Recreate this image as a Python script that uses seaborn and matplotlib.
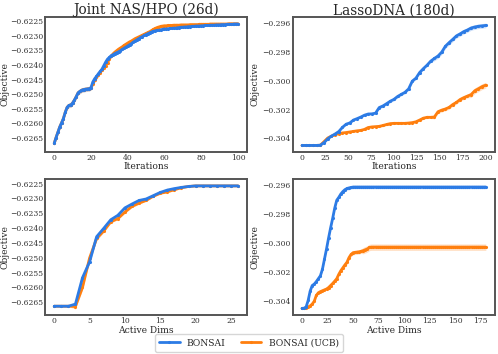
import numpy as np
import pandas as pd
import matplotlib
matplotlib.use("Agg")
import matplotlib.pyplot as plt
import seaborn as sns

# ---------------- data ----------------
nas_iters = list(range(0, 101))
nas_bonsai = [
    -0.62668, -0.62648, -0.62630, -0.62612, -0.62598, -0.62583, -0.62562, -0.62545, -0.62538, -0.62537,
    -0.62530, -0.62520, -0.62508, -0.62495, -0.62490, -0.62486, -0.62484, -0.62483, -0.62482, -0.62481,
    -0.62478, -0.62458, -0.62447, -0.62439, -0.62430, -0.62422, -0.62414, -0.62402, -0.62390, -0.62380,
    -0.62374, -0.62368, -0.62365, -0.62361, -0.62358, -0.62355, -0.62351, -0.62347, -0.62343, -0.62339,
    -0.62335, -0.62331, -0.62327, -0.62322, -0.62318, -0.62314, -0.62310, -0.62306, -0.62303, -0.62299,
    -0.62296, -0.62293, -0.62290, -0.62287, -0.62285, -0.62283, -0.62282, -0.62281, -0.62280, -0.62278,
    -0.62277, -0.62277, -0.62276, -0.62275, -0.62275, -0.62274, -0.62274, -0.62273, -0.62272, -0.62271,
    -0.62271, -0.62270, -0.62270, -0.62269, -0.62269, -0.62268, -0.62268, -0.62267, -0.62267, -0.62267,
    -0.62266, -0.62266, -0.62265, -0.62265, -0.62265, -0.62264, -0.62264, -0.62264, -0.62263, -0.62263,
    -0.62263, -0.62262, -0.62262, -0.62262, -0.62261, -0.62261, -0.62261, -0.62261, -0.62260, -0.62260,
    -0.62260,
]
nas_ucb = [
    -0.62668, -0.62648, -0.62630, -0.62612, -0.62598, -0.62583, -0.62562, -0.62545, -0.62538, -0.62537,
    -0.62530, -0.62520, -0.62508, -0.62495, -0.62490, -0.62486, -0.62484, -0.62483, -0.62482, -0.62481,
    -0.62478, -0.62465, -0.62452, -0.62442, -0.62434, -0.62426, -0.62418, -0.62410, -0.62402, -0.62392,
    -0.62380, -0.62370, -0.62362, -0.62356, -0.62351, -0.62346, -0.62342, -0.62338, -0.62333, -0.62329,
    -0.62325, -0.62321, -0.62318, -0.62314, -0.62310, -0.62307, -0.62304, -0.62301, -0.62298, -0.62295,
    -0.62292, -0.62289, -0.62286, -0.62282, -0.62278, -0.62275, -0.62272, -0.62270, -0.62268, -0.62267,
    -0.62266, -0.62266, -0.62265, -0.62265, -0.62265, -0.62264, -0.62264, -0.62264, -0.62264, -0.62263,
    -0.62263, -0.62263, -0.62263, -0.62263, -0.62262, -0.62262, -0.62262, -0.62262, -0.62262, -0.62261,
    -0.62261, -0.62261, -0.62261, -0.62261, -0.62261, -0.62260, -0.62260, -0.62260, -0.62260, -0.62260,
    -0.62260, -0.62260, -0.62260, -0.62260, -0.62260, -0.62259, -0.62259, -0.62259, -0.62259, -0.62259,
    -0.62259,
]
nas_band = [0.00008] * 25 + [0.00004] * 15 + [0.00002] * 61

lasso_iters = list(range(0, 201, 4))
lasso_bonsai = [
    -0.30450, -0.30450, -0.30450, -0.30450, -0.30450, -0.30448, -0.30430, -0.30404, -0.30385, -0.30370,
    -0.30353, -0.30324, -0.30302, -0.30293, -0.30273, -0.30263, -0.30252, -0.30239, -0.30231, -0.30230,
    -0.30225, -0.30186, -0.30175, -0.30159, -0.30142, -0.30129, -0.30109, -0.30094, -0.30080, -0.30056,
    -0.30002, -0.29981, -0.29942, -0.29915, -0.29891, -0.29863, -0.29844, -0.29827, -0.29800, -0.29759,
    -0.29734, -0.29711, -0.29687, -0.29673, -0.29657, -0.29646, -0.29632, -0.29625, -0.29620, -0.29617,
    -0.29614,
]
lasso_ucb = [
    -0.30450, -0.30450, -0.30450, -0.30450, -0.30450, -0.30448, -0.30423, -0.30398, -0.30385, -0.30375,
    -0.30367, -0.30363, -0.30360, -0.30356, -0.30352, -0.30348, -0.30345, -0.30338, -0.30325, -0.30321,
    -0.30319, -0.30317, -0.30311, -0.30304, -0.30298, -0.30296, -0.30296, -0.30296, -0.30296, -0.30294,
    -0.30291, -0.30285, -0.30273, -0.30260, -0.30254, -0.30254, -0.30252, -0.30215, -0.30204, -0.30196,
    -0.30185, -0.30165, -0.30150, -0.30130, -0.30117, -0.30106, -0.30096, -0.30069, -0.30055, -0.30040,
    -0.30030,
]
lasso_band_bonsai = [0.00002] * 6 + [0.00006] * 15 + [0.00010] * 15 + [0.00016] * 15
lasso_band_ucb = [0.00002] * 6 + [0.00005] * 15 + [0.00008] * 15 + [0.00013] * 10 + [0.00020] * 5

dims_nas = list(range(0, 27))
dims_nas_bonsai = [
    -0.62663, -0.62663, -0.62663, -0.62656, -0.62567, -0.62514, -0.62429, -0.62401, -0.62372, -0.62357,
    -0.62332, -0.62319, -0.62307, -0.62302, -0.62291, -0.62280, -0.62272, -0.62267, -0.62263, -0.62260,
    -0.62258, -0.62258, -0.62258, -0.62258, -0.62258, -0.62258, -0.62258,
]
dims_nas_ucb = [
    -0.62663, -0.62663, -0.62663, -0.62664, -0.62600, -0.62501, -0.62435, -0.62410, -0.62379, -0.62368,
    -0.62346, -0.62327, -0.62316, -0.62307, -0.62293, -0.62283, -0.62278, -0.62271, -0.62264, -0.62260,
    -0.62258, -0.62258, -0.62258, -0.62258, -0.62258, -0.62258, -0.62258,
]
dims_nas_band = [0.00002] * 3 + [0.00008] * 4 + [0.00004] * 6 + [0.00002] * 14

dims_lasso = list(range(0, 181, 2))
dims_lasso_bonsai = [
    -0.30450, -0.30448, -0.30440, -0.30395, -0.30330, -0.30292, -0.30282, -0.30265, -0.30245, -0.30225,
    -0.30180, -0.30110, -0.30040, -0.29965, -0.29895, -0.29830, -0.29760, -0.29705, -0.29685, -0.29662,
    -0.29645, -0.29632, -0.29624, -0.29620, -0.29617,
] + [-0.29614] * 66
dims_lasso_ucb = [
    -0.30450, -0.30450, -0.30446, -0.30440, -0.30432, -0.30420, -0.30400, -0.30360, -0.30342, -0.30334,
    -0.30328, -0.30322, -0.30316, -0.30306, -0.30292, -0.30278, -0.30262, -0.30245, -0.30215, -0.30190,
    -0.30170, -0.30150, -0.30132, -0.30100, -0.30078, -0.30066, -0.30064, -0.30062, -0.30060, -0.30056,
    -0.30052, -0.30046, -0.30040, -0.30030, -0.30028,
] + [-0.30028] * 56
dims_lasso_band_bonsai = [0.00003] * 10 + [0.00008] * 10 + [0.00012] * 71
dims_lasso_band_ucb = [0.00003] * 10 + [0.00008] * 10 + [0.00015] * 10 + [0.00022] * 61

titles = ["Joint NAS/HPO (26d)", "LassoDNA (180d)"]
series_names = ["BONSAI", "BONSAI (UCB)"]
colors = ["#2c7be5", "#ff7f0e"]
nas_yticks = [-0.6265, -0.6260, -0.6255, -0.6250, -0.6245, -0.6240, -0.6235, -0.6230, -0.6225]
nas_yticklabels = ["\u22120.6265", "\u22120.6260", "\u22120.6255", "\u22120.6250", "\u22120.6245",
                   "\u22120.6240", "\u22120.6235", "\u22120.6230", "\u22120.6225"]
lasso_yticks = [-0.304, -0.302, -0.300, -0.298, -0.296]
lasso_yticklabels = ["\u22120.304", "\u22120.302", "\u22120.300", "\u22120.298", "\u22120.296"]

# ---------------- style ----------------
sns.set_style("white")
plt.rcParams["font.family"] = ["DejaVu Serif"]
plt.rcParams["axes.edgecolor"] = "#555555"
plt.rcParams["axes.linewidth"] = 1.4

fig = plt.figure(figsize=(4.98, 3.54), dpi=100)
pos = {
    (0, 0): [0.0904, 0.571, 0.406, 0.381],
    (0, 1): [0.588, 0.571, 0.406, 0.381],
    (1, 0): [0.0904, 0.110, 0.406, 0.384],
    (1, 1): [0.588, 0.110, 0.406, 0.384],
}
axes = {k: fig.add_axes(v) for k, v in pos.items()}

panels = [
    ((0, 0), nas_iters, [nas_bonsai, nas_ucb], [nas_band, nas_band], "Iterations", titles[0]),
    ((0, 1), lasso_iters, [lasso_bonsai, lasso_ucb], [lasso_band_bonsai, lasso_band_ucb], "Iterations", titles[1]),
    ((1, 0), dims_nas, [dims_nas_bonsai, dims_nas_ucb], [dims_nas_band, dims_nas_band], "Active Dims", None),
    ((1, 1), dims_lasso, [dims_lasso_bonsai, dims_lasso_ucb], [dims_lasso_band_bonsai, dims_lasso_band_ucb], "Active Dims", None),
]

order = [1, 0]  # draw orange first, blue on top
for key, xs, ys, bands, xlabel, title in panels:
    ax = axes[key]
    for i in order:
        y = np.array(ys[i])
        b = np.array(bands[i])
        df = pd.DataFrame({"x": xs, "y": y})
        ax.fill_between(xs, y - b, y + b, color=colors[i], alpha=0.25, linewidth=0)
        sns.lineplot(data=df, x="x", y="y", ax=ax, color=colors[i], marker=".",
                     markersize=4.5, markeredgewidth=0, linewidth=2.0,
                     label=series_names[i])
    ax.get_legend().remove()
    ax.set_xlabel(xlabel, fontsize=6.6, labelpad=0.3)
    ax.set_ylabel("Objective", fontsize=6.6)
    ax.tick_params(labelsize=5.5, pad=1.5, length=0, labelcolor="#333333")
    if title:
        ax.set_title(title, fontsize=9.8, pad=2)

axes[(0, 0)].yaxis.set_label_coords(-0.175, 0.5)
axes[(1, 0)].yaxis.set_label_coords(-0.175, 0.5)
axes[(0, 1)].yaxis.set_label_coords(-0.165, 0.5)
axes[(1, 1)].yaxis.set_label_coords(-0.165, 0.5)

for k in [(0, 0), (1, 0)]:
    axes[k].set_yticks(nas_yticks)
    axes[k].set_yticklabels(nas_yticklabels)
for k in [(0, 1), (1, 1)]:
    axes[k].set_yticks(lasso_yticks)
    axes[k].set_yticklabels(lasso_yticklabels)
axes[(0, 0)].set_xticks([0, 20, 40, 60, 80, 100])
axes[(0, 1)].set_xticks([0, 25, 50, 75, 100, 125, 150, 175, 200])
axes[(1, 0)].set_xticks([0, 5, 10, 15, 20, 25])
axes[(1, 1)].set_xticks([0, 25, 50, 75, 100, 125, 150, 175])

handles, labels = axes[(0, 0)].get_legend_handles_labels()
hmap = dict(zip(labels, handles))
fig.legend([hmap[n] for n in series_names], series_names, loc="lower center",
           bbox_to_anchor=(0.5, -0.008), ncol=2, fontsize=6.6, frameon=True,
           handlelength=2.2, columnspacing=1.7, borderpad=0.5)

fig.savefig("out.png", dpi=100)
